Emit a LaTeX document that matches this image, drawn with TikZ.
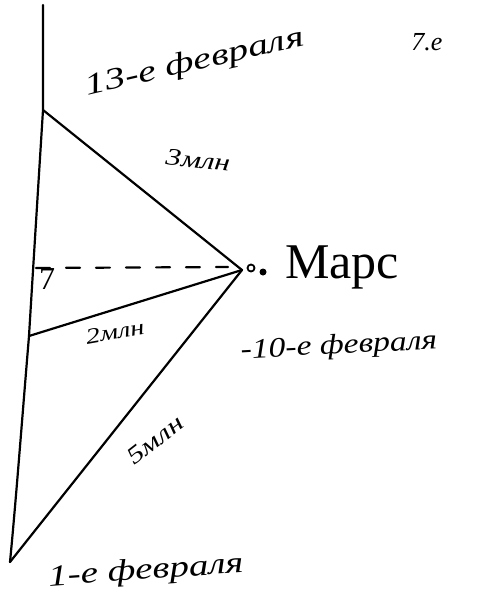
\documentclass[tikz,border=0pt]{standalone}
\usepackage{fontspec}
\setmainfont{Liberation Serif}
\usepackage{graphicx}
\begin{document}
\begin{tikzpicture}[x=1pt,y=-1pt,
  ink/.style={line width=2.2pt,line cap=round,line join=round,draw=black},
  hand/.style={inner sep=0pt},
  dashline/.style={ink,dash pattern=on 14pt off 16pt}]
\useasboundingbox (0,0) rectangle (478,597);
% axis points
\coordinate (top) at (43,5);
\coordinate (a13) at (43,110);
\coordinate (a7) at (36,268);
\coordinate (a10) at (29,336);
\coordinate (a1) at (10,562);
\coordinate (mars) at (242,270);
\coordinate (dashend) at (228,267);
\draw[ink] (top) -- (a13) .. controls (38,190) and (33,270) .. (a10) .. controls (22,420) and (16,500) .. (a1);
\draw[ink] (a13) -- (mars);
\draw[ink] (a10) -- (mars);
\draw[ink] (a1) -- (mars);
\draw[dashline] (a7) -- (dashend);
% dots of Mars
\node[draw,circle,line width=1.8pt,minimum size=7pt,inner sep=0pt] (m1) at (251,268) {};
\node[fill,circle,minimum size=7pt,inner sep=0pt] (m2) at (263,272) {};
% labels
\node[hand,rotate=13] (l13) at (195,63) {\fontsize{30}{30}\selectfont\itshape\scalebox{1.35}[1]{13-е февраля}};
\node[hand] (l7e) at (427,42) {\fontsize{26}{26}\selectfont\itshape 7.е};
\node[hand,rotate=-6] (l3) at (198,160) {\fontsize{24}{24}\selectfont\itshape\scalebox{1.3}[1]{3млн}};
\node[hand] (lmars) at (342,267) {\fontsize{50}{50}\selectfont Марс};
\node[hand] (l7) at (47,279) {\fontsize{32}{32}\selectfont 7};
\node[hand,rotate=10] (l2) at (115,332) {\fontsize{22}{22}\selectfont\itshape\scalebox{1.3}[1]{2млн}};
\node[hand,rotate=3] (l10) at (339,347) {\fontsize{28}{28}\selectfont\itshape\scalebox{1.2}[1]{-10-е февраля}};
\node[hand,rotate=38] (l5) at (155,440) {\fontsize{24}{24}\selectfont\itshape\scalebox{1.3}[1]{5млн}};
\node[hand,rotate=4] (l1) at (146,572) {\fontsize{30}{30}\selectfont\itshape\scalebox{1.3}[1]{1-е февраля}};
\end{tikzpicture}
\end{document}
